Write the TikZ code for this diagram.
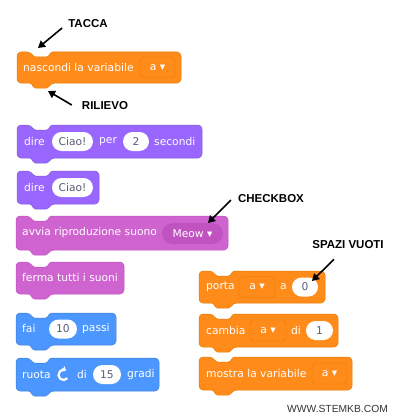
\documentclass[tikz,border=0pt]{standalone}
\usepackage{fontspec}
\newfontfamily\blocchi{DejaVu Sans}
\newfontfamily\etichette{Liberation Sans}
\usetikzlibrary{arrows.meta,positioning}
\definecolor{arancio}{HTML}{FF8C1A}
\definecolor{arancioscuro}{HTML}{E57A00}
\definecolor{viola}{HTML}{9966FF}
\definecolor{violascuro}{HTML}{855CD6}
\definecolor{rosa}{HTML}{CF63CF}
\definecolor{rosascuro}{HTML}{C053C0}
\definecolor{azzurro}{HTML}{4C97FF}
\definecolor{azzurroscuro}{HTML}{4280D7}
\definecolor{grigio}{HTML}{575E75}
\definecolor{sitogrigio}{HTML}{333333}
% blocco: stile, sinistra, alto, destra, basso
\newcommand{\blocco}[5]{%
  \draw[#1, line width=.5pt, rounded corners=4pt] (#2,#3+10) -- (#2,#3) -- (#2+14,#3)
    [rounded corners=1.5pt] -- (#2+17,#3+5) -- (#2+31,#3+5) -- (#2+34,#3)
    [rounded corners=4pt] -- (#4,#3) -- (#4,#5) -- (#2+34,#5)
    [rounded corners=1.5pt] -- (#2+31,#5+5) -- (#2+17,#5+5) -- (#2+14,#5)
    [rounded corners=4pt] -- (#2,#5) -- cycle;}
\tikzset{
  bloccoVar/.style={fill=arancio,draw=arancioscuro},
  bloccoAspetto/.style={fill=viola,draw=violascuro},
  bloccoSuono/.style={fill=rosa,draw=rosascuro},
  bloccoMoto/.style={fill=azzurro,draw=azzurroscuro},
  testo/.style={text=white,anchor=west,inner sep=0pt,font=\blocchi\fontsize{10.7}{12}\selectfont},
  spazio/.style={fill=white,text=grigio,rounded corners=9.5pt,minimum height=19pt,inner sep=0pt,font=\blocchi\fontsize{10.7}{12}\selectfont},
  menu/.style={draw=arancioscuro,fill=arancio,text=white,rounded corners=4pt,minimum height=21pt,inner sep=0pt,font=\blocchi\fontsize{10.7}{12}\selectfont},
  etichetta/.style={inner sep=1pt,font=\etichette\bfseries\fontsize{11.5}{13}\selectfont},
  freccia/.style={-{Triangle[length=7pt,width=8pt]},line width=1.6pt}
}
\begin{document}
\begin{tikzpicture}[x=1pt,y=-1pt]
  \path[fill=white,use as bounding box] (0,0) rectangle (400,420);

  % colonna sinistra
  \blocco{bloccoVar}{17}{52}{181}{83}
  \node[testo] (nascondi) at (23,67.5) {nascondi la variabile};
  \node[menu,minimum width=35pt] (menuA1) at (157.5,67.5) {a ▾};

  \blocco{bloccoAspetto}{17}{125}{202}{158}
  \node[testo] (dire1) at (24,141.5) {dire};
  \node[spazio,minimum width=41pt] (ciao1) at (72.5,141.5) {Ciao!};
  \node[testo] (per) at (99,141.5) {per};
  \node[spazio,minimum width=26pt] (due) at (136,141.5) {2};
  \node[testo] (secondi) at (154,141.5) {secondi};

  \blocco{bloccoAspetto}{17}{171}{99}{204}
  \node[testo] (dire2) at (24,187.5) {dire};
  \node[spazio,minimum width=41pt] (ciao2) at (72.5,187.5) {Ciao!};

  \blocco{bloccoSuono}{16}{216}{228}{250}
  \node[testo] (avvia) at (22,233) {avvia riproduzione suono};
  \node[fill=rosascuro,text=white,rounded corners=10.5pt,minimum height=21pt,minimum width=61pt,inner sep=0pt,font=\blocchi\fontsize{10.7}{12}\selectfont] (meow) at (192.5,233.5) {Meow ▾};

  \blocco{bloccoSuono}{16}{262}{124}{294}
  \node[testo] (ferma) at (22,278) {ferma tutti i suoni};

  \blocco{bloccoMoto}{16}{313}{116}{345}
  \node[testo] (fai) at (22,329) {fai};
  \node[spazio,minimum width=28pt] (dieci) at (63,329) {10};
  \node[testo] (passi) at (82,329) {passi};

  \blocco{bloccoMoto}{16}{358}{159}{391}
  \node[testo] (ruota) at (22,374.5) {ruota};
  \draw[white,line width=2.2pt,-{Triangle[length=3.5pt,width=6pt]}] (63.5,375) ++(40:5) arc[start angle=40,end angle=300,radius=5];
  \node[testo] (di1) at (77,374.5) {di};
  \node[spazio,minimum width=28pt] (quindici) at (107,374.5) {15};
  \node[testo] (gradi) at (127,374.5) {gradi};

  % colonna destra
  \blocco{bloccoVar}{199}{271}{325}{303}
  \node[testo] (porta) at (206,287) {porta};
  \node[menu,minimum width=36pt] (menuA2) at (257,287) {a ▾};
  \node[testo] (a) at (280,287) {a};
  \node[spazio,minimum width=26pt] (zero) at (305,287) {0};

  \blocco{bloccoVar}{199}{314}{338}{347}
  \node[testo] (cambia) at (206,330.5) {cambia};
  \node[menu,minimum width=36pt] (menuA3) at (268,330.5) {a ▾};
  \node[testo] (di2) at (291,330.5) {di};
  \node[spazio,minimum width=27pt] (uno) at (319.5,330.5) {1};

  \blocco{bloccoVar}{199}{357}{352}{390}
  \node[testo] (mostra) at (206,373.5) {mostra la variabile};
  \node[menu,minimum width=35pt] (menuA4) at (329.5,373.5) {a ▾};

  % etichette
  \node[etichetta] (tacca) at (88,24) {TACCA};
  \node[etichetta] (rilievo) at (105,106) {RILIEVO};
  \node[etichetta] (checkbox) at (271,199) {CHECKBOX};
  \node[etichetta] (spazi) at (348,245) {SPAZI VUOTI};
  \coordinate (pTacca) at (38,48);
  \coordinate (pRilievo) at (48,91);
  \coordinate (pCheckbox) at (208,223);
  \coordinate (pSpazi) at (312,281);

  \draw[freccia] ([xshift=-5pt,yshift=-4pt]tacca.west) -- (pTacca);
  \draw[freccia] ([xshift=-9pt,yshift=1pt]rilievo.west) -- (pRilievo);
  \draw[freccia] ([xshift=-6pt,yshift=-1pt]checkbox.west) -- (pCheckbox);
  \draw[freccia] ([xshift=-14pt,yshift=-9pt]spazi.south) -- (pSpazi);

  \node[text=sitogrigio,font=\etichette\fontsize{10.3}{12}\selectfont] (sito) at (337.5,409) {WWW.STEMKB.COM};
\end{tikzpicture}
\end{document}
